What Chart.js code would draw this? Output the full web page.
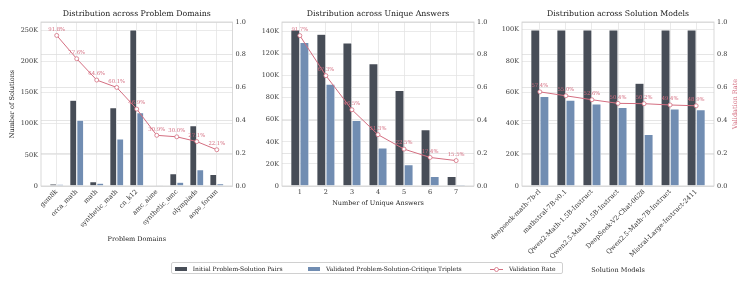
<!DOCTYPE html>
<html><head><meta charset="utf-8">
<script src="https://cdn.jsdelivr.net/npm/chart.js@4.4.0/dist/chart.umd.min.js"></script>
<style>
body{margin:0;background:#fff;width:749px;height:284px;overflow:hidden;position:relative;font-family:'DejaVu Serif',serif}
canvas{position:absolute;top:0}
#legend{position:absolute;left:170.7px;top:262.3px;width:392px;height:11.7px;border:0.8px solid #d0d0d0;border-radius:2px;background:rgba(255,255,255,0.9);box-sizing:border-box;font-size:6px;color:#222;white-space:nowrap}
#legend .it{position:absolute;top:0;height:100%;display:flex;align-items:center}
#legend .patch{position:absolute;top:3.6px;width:12.5px;height:4px}
</style></head>
<body>
<canvas id="c1" width="252" height="284" style="left:0px"></canvas>
<canvas id="c2" width="245" height="284" style="left:252px"></canvas>
<canvas id="c3" width="271" height="284" style="left:478px"></canvas>
<div id="legend">
  <div class="patch" style="left:3.3px;background:#474d57"></div>
  <div class="it" style="left:21px">Initial Problem-Solution Pairs</div>
  <div class="patch" style="left:136px;background:#718db2"></div>
  <div class="it" style="left:154.3px">Validated Problem-Solution-Critique Triplets</div>
  <svg style="position:absolute;left:318.6px;top:2.3px" width="13" height="7"><line x1="0" y1="3.5" x2="13" y2="3.5" stroke="#d46e80" stroke-width="1"/><circle cx="6.5" cy="3.5" r="2" fill="#fff" stroke="#d46e80" stroke-width="0.8"/></svg>
  <div class="it" style="left:337.3px">Validation Rate</div>
</div>
<script>
// ---- Data ----
const domainLabels = ['gsm8k','orca_math','math','synthetic_math','cn_k12','amc_aime','synthetic_amc','olympiads','aops_forum'];
const domainInitial = [3300, 138000, 7000, 126000, 251000, 1200, 20000, 97000, 18500];
const domainValidated = [3000, 106000, 4500, 75700, 117700, 400, 6000, 26300, 3900];
const domainRate = [0.918, 0.776, 0.646, 0.601, 0.469, 0.309, 0.300, 0.271, 0.221];
const domainYTicks = [0, 50000, 100000, 150000, 200000, 250000];

const answerLabels = ['1','2','3','4','5','6','7'];
const answerInitial = [141400, 137500, 129600, 110800, 86500, 51000, 8800];
const answerValidated = [130000, 92300, 59500, 34500, 19300, 8600, 1300];
const answerRate = [0.917, 0.673, 0.465, 0.313, 0.225, 0.174, 0.155];
const answerYTicks = [0, 20000, 40000, 60000, 80000, 100000, 120000, 140000];

const modelLabels = ['deepseek-math-7b-rl','mathstral-7B-v0.1','Qwen2-Math-1.5B-Instruct','Qwen2.5-Math-1.5B-Instruct','DeepSeek-V2-Chat-0628','Qwen2.5-Math-7B-Instruct','Mistral-Large-Instruct-2411'];
const modelInitial = [100000, 100000, 100000, 100000, 65800, 100000, 100000];
const modelValidated = [57400, 55000, 52600, 50400, 33000, 49400, 48900];
const modelRate = [0.574, 0.550, 0.526, 0.504, 0.502, 0.494, 0.489];
const modelYTicks = [0, 20000, 40000, 60000, 80000, 100000];

const rateTicks = [0, 0.2, 0.4, 0.6, 0.8, 1.0];
const seriesNames = ['Initial Problem-Solution Pairs','Validated Problem-Solution-Critique Triplets','Validation Rate'];

// ---- Style ----
const DARK = '#474d57', BLUE = '#718db2', ROSE = '#d46e80';
const GRID = '#e4e4e4', GRID2 = '#dedede', TICK = '#333';
Chart.defaults.font.family = "'DejaVu Serif', serif";
Chart.defaults.font.size = 6.5;

function makeChart(id, cfg) {
  const n = cfg.labels.length;
  const span = (n - 1) + 0.7, m = 0.05 * span;
  const pts = arr => arr.map((v, i) => ({x: i, y: v}));
  const decor = {
    id: 'decor',
    afterDraw(chart) {
      const ctx = chart.ctx, a = chart.chartArea;
      ctx.save();
      ctx.strokeStyle = '#d0d0d0'; ctx.lineWidth = 0.8;
      ctx.strokeRect(a.left, a.top, a.right - a.left, a.bottom - a.top);
      const meta = chart.getDatasetMeta(0);
      ctx.fillStyle = ROSE; ctx.font = "5.3px 'DejaVu Serif', serif";
      ctx.textAlign = 'center'; ctx.textBaseline = 'middle';
      meta.data.forEach((p, i) => {
        ctx.fillText((cfg.rate[i] * 100).toFixed(1) + '%', p.x, p.y - 6);
      });
      ctx.fillStyle = '#222'; ctx.font = "7.8px 'DejaVu Serif', serif";
      ctx.fillText(cfg.title, (a.left + a.right) / 2, 14);
      if (cfg.y1Title) {
        ctx.translate(cfg.y1TitleX, (a.top + a.bottom) / 2);
        ctx.rotate(-Math.PI / 2);
        ctx.fillStyle = ROSE; ctx.font = "6.5px 'DejaVu Serif', serif";
        ctx.fillText(cfg.y1Title, 0, 0);
      }
      ctx.restore();
    }
  };
  return new Chart(document.getElementById(id), {
    type: 'bar',
    data: {
      datasets: [
        {type: 'line', label: seriesNames[2], data: pts(cfg.rate), yAxisID: 'y1', order: 0,
         borderColor: ROSE, backgroundColor: '#fff', borderWidth: 1, tension: 0,
         pointRadius: 2, pointBorderWidth: 0.8, pointBackgroundColor: '#fff', pointBorderColor: ROSE},
        {label: seriesNames[0], data: pts(cfg.initial), yAxisID: 'y', order: 1,
         backgroundColor: DARK, borderColor: '#fff', borderWidth: 0.6,
         categoryPercentage: 0.7, barPercentage: 1},
        {label: seriesNames[1], data: pts(cfg.validated), yAxisID: 'y', order: 2,
         backgroundColor: BLUE, borderColor: '#fff', borderWidth: 0.6,
         categoryPercentage: 0.7, barPercentage: 1}
      ]
    },
    options: {
      responsive: false, animation: false,
      layout: {padding: {top: 22, bottom: cfg.padB, left: 0, right: 0}, autoPadding: false},
      plugins: {legend: {display: false}, title: {display: false}, tooltip: {enabled: false}},
      scales: {
        x: {
          type: 'linear', bounds: 'data', min: -0.35 - m, max: n - 1 + 0.35 + m, offset: false,
          afterBuildTicks: s => { s.ticks = cfg.labels.map((_, i) => ({value: i})); },
          afterFit: s => { s.height = cfg.xH; },
          grid: {offset: false, color: GRID, lineWidth: 0.8, drawTicks: false},
          border: {display: false},
          ticks: {autoSkip: false, maxRotation: cfg.rot, minRotation: cfg.rot, padding: cfg.xPad,
                  color: TICK, font: {size: 6.5}, callback: v => cfg.labels[v]},
          title: {display: true, text: cfg.xTitle, color: '#222', font: {size: 6.5}, padding: {top: 0, bottom: cfg.xTitlePad}}
        },
        y: {
          position: 'left', bounds: 'data', min: 0, max: cfg.yMax,
          afterBuildTicks: s => { s.ticks = cfg.yTicks.map(v => ({value: v})); },
          afterFit: s => { s.width = cfg.yW; },
          grid: {color: GRID, lineWidth: 0.8, drawTicks: false},
          border: {display: false},
          ticks: {autoSkip: false, padding: 3, color: TICK, font: {size: 6.5},
                  callback: v => v === 0 ? '0' : Math.round(v / 1000) + 'K'},
          title: {display: !!cfg.yTitle, text: cfg.yTitle || '', color: '#222', font: {size: 6.5}, padding: {top: 8, bottom: 0}}
        },
        y1: {
          position: 'right', bounds: 'data', min: 0, max: 1, z: 1,
          afterBuildTicks: s => { s.ticks = rateTicks.map(v => ({value: v})); },
          afterFit: s => { s.width = cfg.y1W; },
          grid: {color: GRID2, lineWidth: 0.8, drawTicks: false},
          border: {display: false},
          ticks: {autoSkip: false, padding: 3, color: TICK, font: {size: 6.5},
                  callback: v => v.toFixed(1)}
        }
      }
    },
    plugins: [decor]
  });
}

makeChart('c1', {
  labels: domainLabels, initial: domainInitial, validated: domainValidated, rate: domainRate, yTicks: domainYTicks,
  title: 'Distribution across Problem Domains', xTitle: 'Problem Domains', yTitle: 'Number of Solutions',
  yMax: 263550, yW: 41, y1W: 19.5, xH: 57, padB: 41, xTitlePad: 0, rot: 45, xPad: 2
});
makeChart('c2', {
  labels: answerLabels, initial: answerInitial, validated: answerValidated, rate: answerRate, yTicks: answerYTicks,
  title: 'Distribution across Unique Answers', xTitle: 'Number of Unique Answers',
  yMax: 148500, yW: 30, y1W: 23, xH: 22, padB: 76, xTitlePad: 1, rot: 0, xPad: 2
});
makeChart('c3', {
  labels: modelLabels, initial: modelInitial, validated: modelValidated, rate: modelRate, yTicks: modelYTicks,
  title: 'Distribution across Solution Models', xTitle: 'Solution Models',
  y1Title: 'Validation Rate', y1TitleX: 257,
  yMax: 105000, yW: 44, y1W: 35, xH: 88, padB: 10, xTitlePad: 0, rot: 45, xPad: 2
});
</script>
</body></html>
